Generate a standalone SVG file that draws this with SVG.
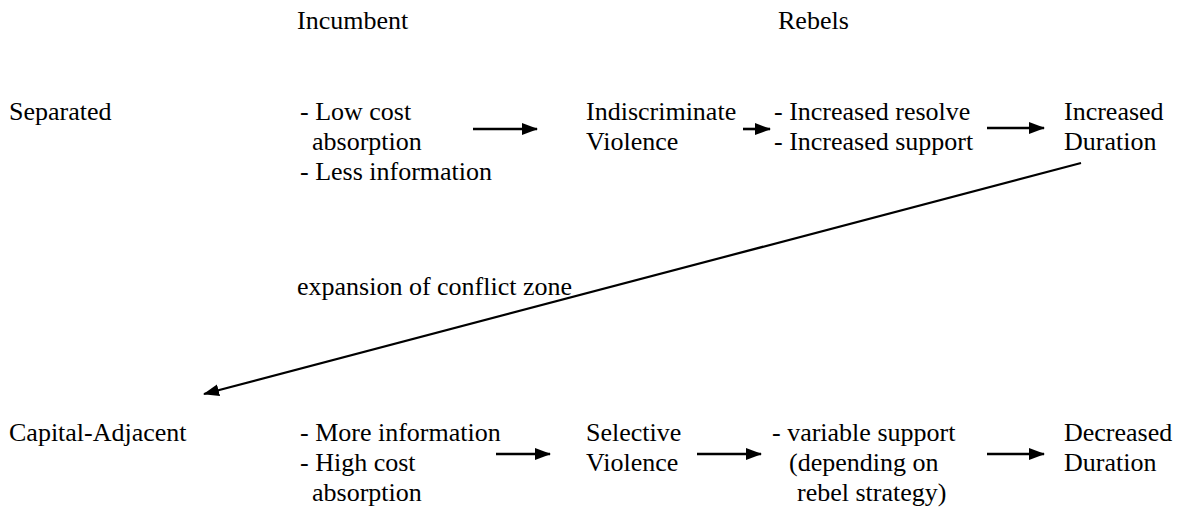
<svg xmlns="http://www.w3.org/2000/svg" width="1184" height="510" viewBox="0 0 1184 510">
<style>
text{font-family:'Liberation Serif', 'Times New Roman', serif;font-size:26px;fill:#000}
.c{stroke:#000;stroke-width:2.6;fill:none}
.d{stroke:#000;stroke-width:2.2;fill:none}
</style>
<defs>
<marker id="ah" markerWidth="16" markerHeight="12" refX="15" refY="6" orient="auto" markerUnits="userSpaceOnUse">
<path d="M0,0 L16,6 L0,12 Z" fill="#000"/>
</marker>
</defs>
<rect width="1184" height="510" fill="#fff"/>
<g id="headers">
<text x="297" y="29">Incumbent</text>
<text x="778" y="29">Rebels</text>
</g>
<g id="row-separated">
<text x="9" y="120">Separated</text>
</g>
<g id="incumbent-separated">
<text x="300" y="120">- Low cost</text>
<text x="312" y="150">absorption</text>
<text x="300" y="180">- Less information</text>
</g>
<g id="indiscriminate">
<text x="586" y="120">Indiscriminate</text>
<text x="586" y="150">Violence</text>
</g>
<g id="rebels-separated">
<text x="774" y="120">- Increased resolve</text>
<text x="774" y="150">- Increased support</text>
</g>
<g id="increased-duration">
<text x="1064" y="120">Increased</text>
<text x="1064" y="150">Duration</text>
</g>
<g id="row-capital">
<text x="9" y="441">Capital-Adjacent</text>
</g>
<g id="incumbent-capital">
<text x="300" y="441">- More information</text>
<text x="300" y="471">- High cost</text>
<text x="312" y="501">absorption</text>
</g>
<g id="selective">
<text x="586" y="441">Selective</text>
<text x="586" y="471">Violence</text>
</g>
<g id="rebels-capital">
<text x="772" y="441">- variable support</text>
<text x="789" y="471">(depending on</text>
<text x="797" y="501">rebel strategy)</text>
</g>
<g id="decreased-duration">
<text x="1064" y="441">Decreased</text>
<text x="1064" y="471">Duration</text>
</g>
<g id="label-expansion">
<text x="297" y="295">expansion of conflict zone</text>
</g>
<g id="connectors">
<line class="c" x1="473" y1="129" x2="537" y2="129" marker-end="url(#ah)"/>
<line class="c" x1="743" y1="129" x2="770" y2="129" marker-end="url(#ah)"/>
<line class="c" x1="987" y1="128" x2="1044" y2="128" marker-end="url(#ah)"/>
<line class="d" x1="1081" y1="163" x2="204" y2="394" marker-end="url(#ah)"/>
<line class="c" x1="496" y1="454" x2="550" y2="454" marker-end="url(#ah)"/>
<line class="c" x1="697" y1="454" x2="761" y2="454" marker-end="url(#ah)"/>
<line class="c" x1="987" y1="454" x2="1044" y2="454" marker-end="url(#ah)"/>
</g>
</svg>
